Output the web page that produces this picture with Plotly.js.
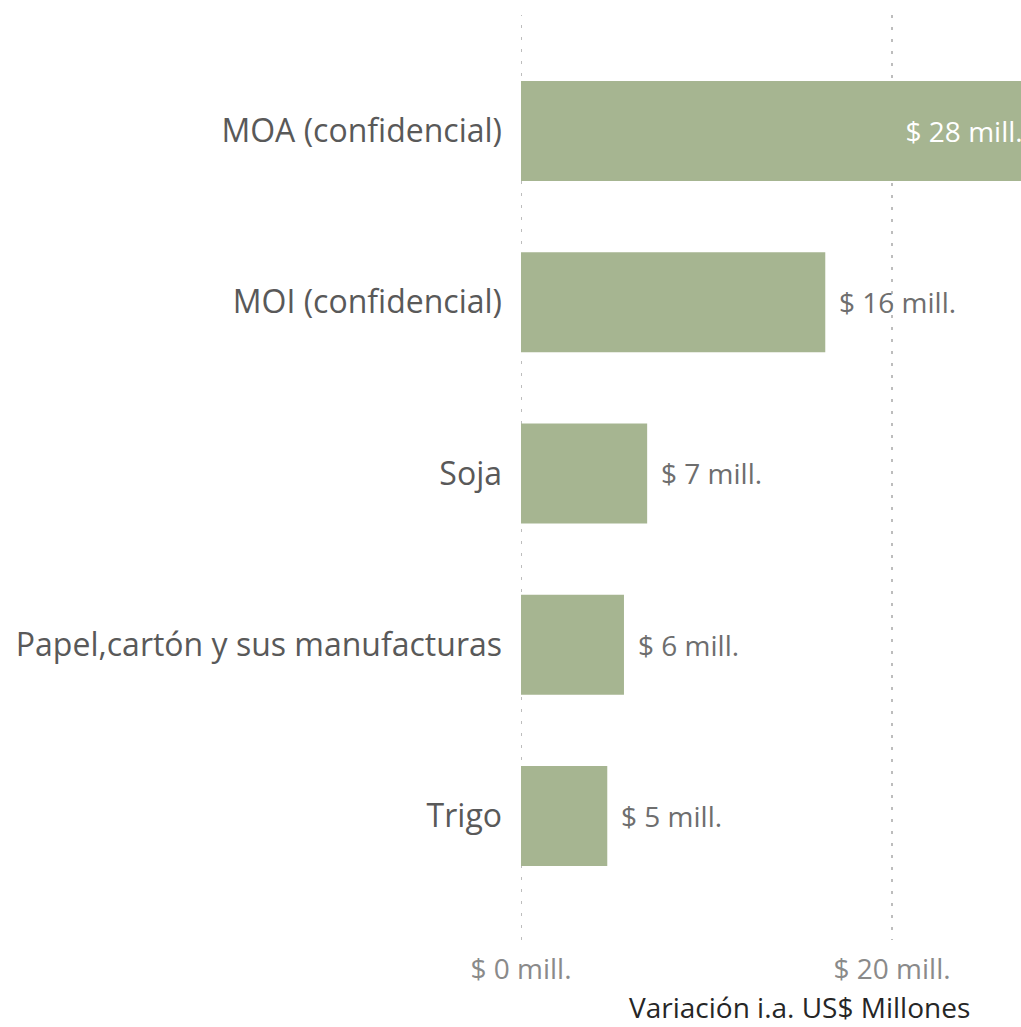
<!DOCTYPE html>
<html>
<head>
<meta charset="utf-8">
<script src="https://cdn.plot.ly/plotly-3.0.1.min.js"></script>
<style>html,body{margin:0;padding:0;background:#fff;}#chart{width:1021px;height:1027px;}</style>
</head>
<body>
<div id="chart"></div>
<script>
const categories = ["MOA (confidencial)", "MOI (confidencial)", "Soja", "Papel,cartón y sus manufacturas", "Trigo"];
const values = [27.2, 16.4, 6.8, 5.55, 4.65];
const labels = ["$ 28 mill.", "$ 16 mill.", "$ 7 mill.", "$ 6 mill.", "$ 5 mill."];
const tickValues = [0, 20];
const tickLabels = ["$ 0 mill.", "$ 20 mill."];
const axisTitle = "Variación i.a. US$ Millones";

const FONT = "Open Sans, sans-serif";
const xMin = 0;
const xMax = 26.95;

const trace = {
  type: "bar",
  orientation: "h",
  x: values,
  y: categories,
  marker: {color: "#a6b591"},
  text: labels.map((t, i) => values[i] > xMax ? t : ""),
  textposition: "inside",
  insidetextanchor: "end",
  insidetextfont: {color: "#ffffff", size: 28, family: FONT},
  constraintext: "none",
  cliponaxis: true,
  hoverinfo: "none"
};

const annotations = labels.map((t, i) => values[i] > xMax ? null : ({
  x: values[i], y: categories[i], xref: "x", yref: "y",
  text: t, showarrow: false, xanchor: "left", xshift: 12,
  font: {family: FONT, size: 28, color: "#6e6e6e"}
})).filter(a => a);

annotations.push({
  x: 0.556, y: 0, xref: "paper", yref: "paper", yanchor: "top", yshift: -46,
  text: axisTitle, showarrow: false, xanchor: "center",
  font: {family: FONT, size: 28, color: "#262626"}
});

// dotted gridline at zero (Plotly omits the grid line on the plot edge)
const shapes = [{
  type: "line", layer: "below", xref: "x", yref: "paper",
  x0: 0, x1: 0, y0: 0, y1: 1,
  line: {color: "#bdbdbd", width: 2, dash: "3px,9px"}
}];

const layout = {
  width: 1021, height: 1027,
  margin: {l: 521, r: 0, t: 15, b: 87},
  paper_bgcolor: "#ffffff", plot_bgcolor: "#ffffff",
  showlegend: false,
  bargap: 0.416,
  font: {family: FONT},
  xaxis: {
    range: [xMin, xMax],
    tickvals: tickValues, ticktext: tickLabels,
    showgrid: true, gridcolor: "#bdbdbd", gridwidth: 2, griddash: "3px,9px",
    zeroline: false, showline: false, ticks: "",
    ticklabelstandoff: 10,
    tickfont: {family: FONT, size: 28, color: "#8a8a8a"},
    fixedrange: true
  },
  yaxis: {
    type: "category",
    categoryorder: "array", categoryarray: categories,
    range: [4.724, -0.677],
    showgrid: false, zeroline: false, showline: false, ticks: "",
    ticklabelstandoff: 18,
    tickfont: {family: FONT, size: 32, color: "#595959"},
    fixedrange: true
  },
  shapes: shapes,
  annotations: annotations
};

Plotly.newPlot("chart", [trace], layout, {staticPlot: true, displayModeBar: false});
</script>
</body>
</html>
